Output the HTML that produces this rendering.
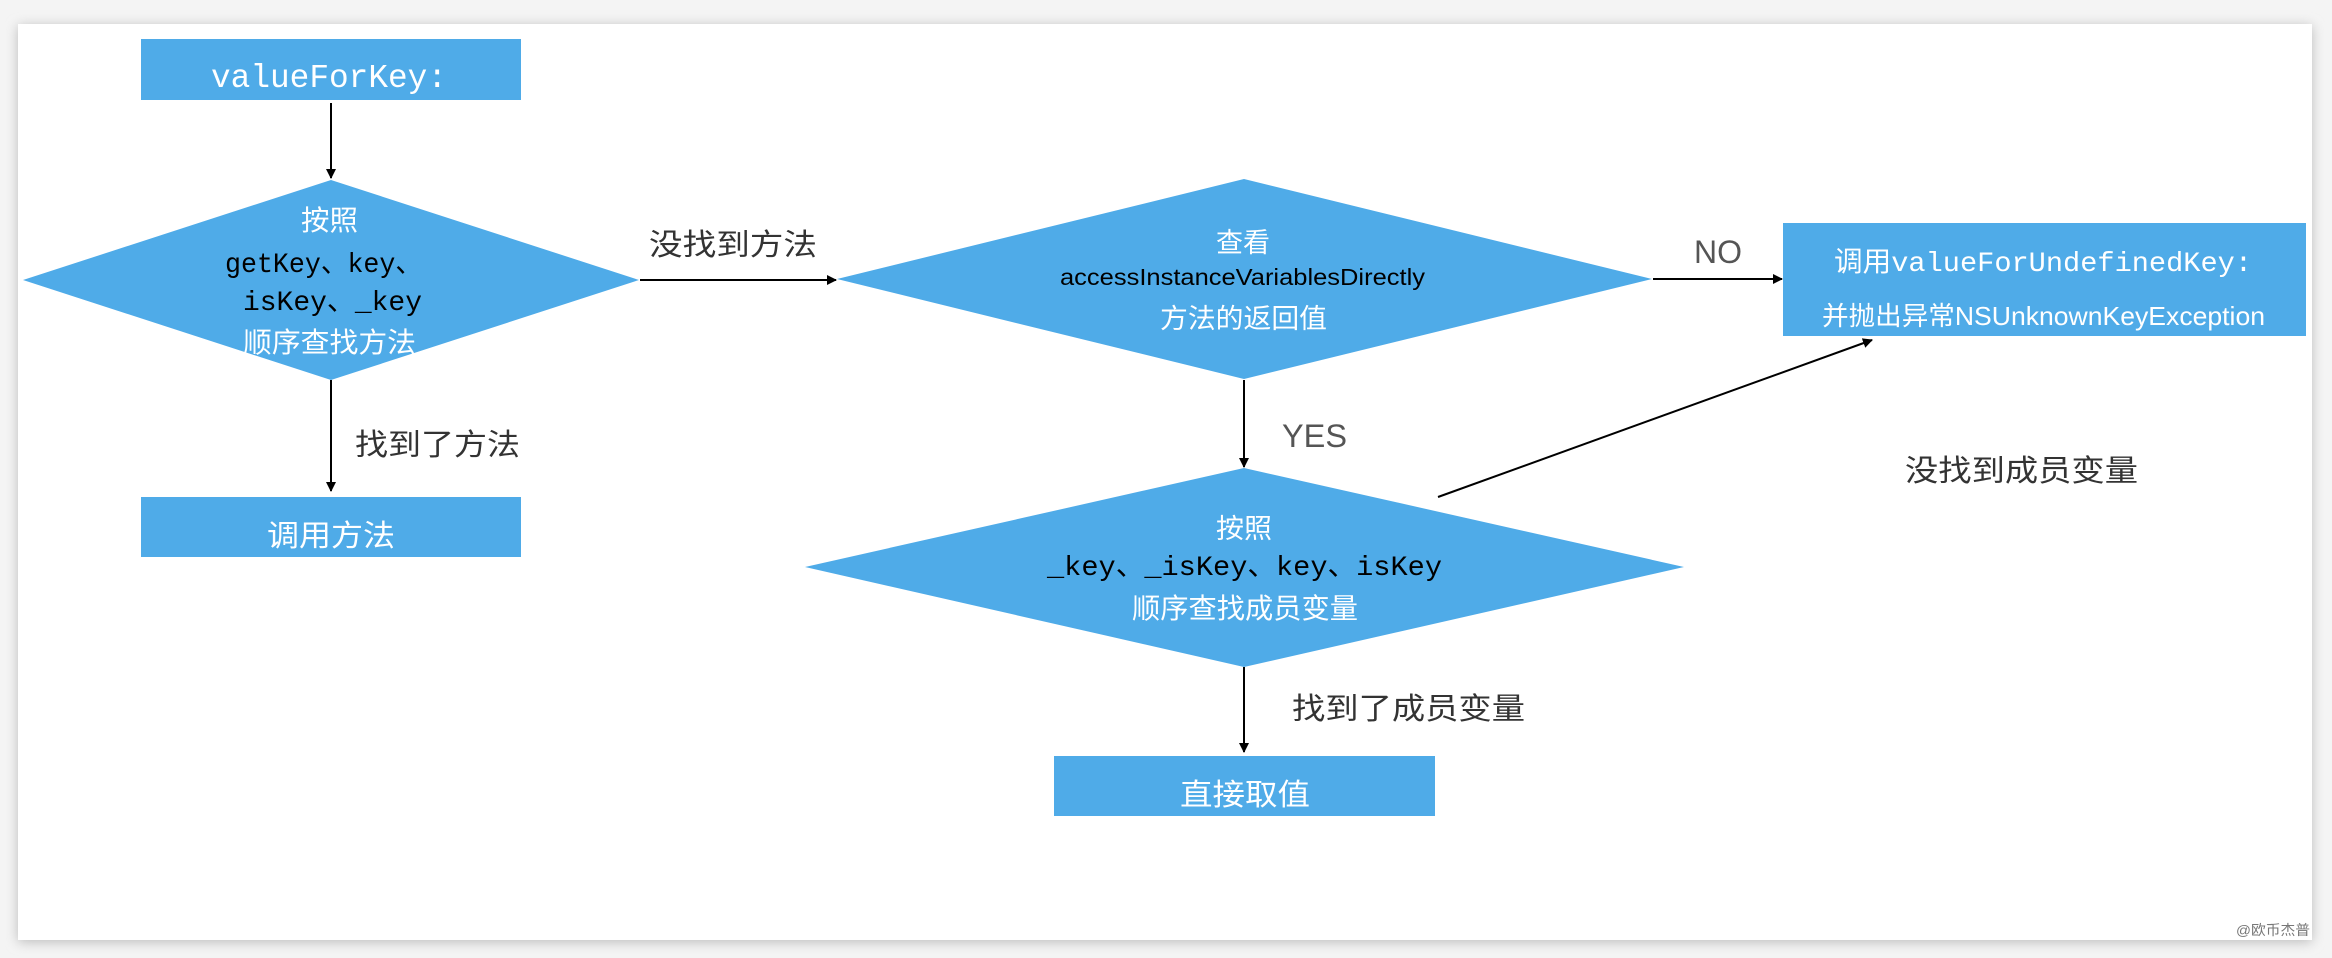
<!DOCTYPE html>
<html><head><meta charset="utf-8"><style>
html,body{margin:0;padding:0;background:#f3f3f3;}
svg{display:block;}
</style></head><body>
<svg width="2332" height="958" viewBox="0 0 2332 958" xmlns="http://www.w3.org/2000/svg">
<defs>
<marker id="a" markerWidth="10" markerHeight="10" refX="9" refY="5" orient="auto" markerUnits="userSpaceOnUse"><path d="M0,0 L10,5 L0,10 z" fill="#000"/></marker>
<filter id="sh" x="-5%" y="-5%" width="110%" height="110%"><feGaussianBlur stdDeviation="6"/></filter>
</defs>
<rect x="0" y="0" width="2332" height="958" fill="#f4f4f4"/>
<rect x="18" y="26" width="2294" height="916" fill="#bbb" filter="url(#sh)"/>
<rect x="18" y="24" width="2294" height="916" fill="#fff"/>
<g fill="#4fabe8">
<rect x="141" y="39" width="380" height="61"/>
<polygon points="23,280 331,180 639,280 331,380"/>
<rect x="141" y="497" width="380" height="60"/>
<polygon points="837,279 1244,179 1652,279 1244,379"/>
<rect x="1783" y="223" width="523" height="113"/>
<polygon points="805,567 1244,468 1684,567 1244,667"/>
<rect x="1054" y="756" width="381" height="60"/>
</g>
<g stroke="#000" stroke-width="2" fill="none">
<line x1="331" y1="103" x2="331" y2="178" marker-end="url(#a)"/>
<line x1="331" y1="380" x2="331" y2="491" marker-end="url(#a)"/>
<line x1="640" y1="280" x2="836" y2="280" marker-end="url(#a)"/>
<line x1="1653" y1="279" x2="1782" y2="279" marker-end="url(#a)"/>
<line x1="1244" y1="380" x2="1244" y2="467" marker-end="url(#a)"/>
<line x1="1438" y1="497" x2="1872" y2="340" marker-end="url(#a)"/>
<line x1="1244" y1="667" x2="1244" y2="752" marker-end="url(#a)"/>
</g>
<g font-family="Liberation Mono, 'Noto Sans CJK SC', monospace" text-anchor="start">
<text x="211" y="87" font-size="33" fill="#fff" textLength="236" lengthAdjust="spacingAndGlyphs">valueForKey:</text>
<text x="225" y="272" font-size="28" fill="#000" textLength="197" lengthAdjust="spacingAndGlyphs">getKey、key、</text>
<text x="243" y="310" font-size="28" fill="#000" textLength="179" lengthAdjust="spacingAndGlyphs">isKey、_key</text>
<text x="1047" y="575" font-size="28" fill="#000" textLength="395" lengthAdjust="spacingAndGlyphs">_key、_isKey、key、isKey</text>
<text x="1834" y="271" font-size="28" fill="#fff" textLength="418" lengthAdjust="spacingAndGlyphs">调用valueForUndefinedKey:</text>
</g>
<g font-family="Liberation Sans, 'Noto Sans CJK SC', sans-serif">
<text x="301" y="230" font-size="28" fill="#fff" textLength="57" lengthAdjust="spacingAndGlyphs">按照</text>
<text x="243" y="352" font-size="28" fill="#fff" textLength="173" lengthAdjust="spacingAndGlyphs">顺序查找方法</text>
<text x="267" y="546" font-size="30" fill="#fff" textLength="128" lengthAdjust="spacingAndGlyphs">调用方法</text>
<text x="355" y="455" font-size="30" fill="#333" textLength="165" lengthAdjust="spacingAndGlyphs">找到了方法</text>
<text x="649" y="255" font-size="30" fill="#333" textLength="168" lengthAdjust="spacingAndGlyphs">没找到方法</text>
<text x="1216" y="252" font-size="27" fill="#fff" textLength="54" lengthAdjust="spacingAndGlyphs">查看</text>
<text x="1060" y="285" font-size="23" fill="#000" textLength="365" lengthAdjust="spacingAndGlyphs">accessInstanceVariablesDirectly</text>
<text x="1160" y="328" font-size="27" fill="#fff" textLength="167" lengthAdjust="spacingAndGlyphs">方法的返回值</text>
<text x="1694" y="263" font-size="32" fill="#555" textLength="48" lengthAdjust="spacingAndGlyphs">NO</text>
<text x="1822" y="325" font-size="26" fill="#fff" textLength="443" lengthAdjust="spacingAndGlyphs">并抛出异常NSUnknownKeyException</text>
<text x="1282" y="447" font-size="32" fill="#555" textLength="65" lengthAdjust="spacingAndGlyphs">YES</text>
<text x="1905" y="481" font-size="30" fill="#333" textLength="233" lengthAdjust="spacingAndGlyphs">没找到成员变量</text>
<text x="1216" y="538" font-size="27" fill="#fff" textLength="56" lengthAdjust="spacingAndGlyphs">按照</text>
<text x="1132" y="618" font-size="28" fill="#fff" textLength="226" lengthAdjust="spacingAndGlyphs">顺序查找成员变量</text>
<text x="1292" y="719" font-size="30" fill="#333" textLength="233" lengthAdjust="spacingAndGlyphs">找到了成员变量</text>
<text x="1180" y="805" font-size="30" fill="#fff" textLength="130" lengthAdjust="spacingAndGlyphs">直接取值</text>
<text x="2236" y="935" font-size="14" fill="#777" textLength="74" lengthAdjust="spacingAndGlyphs">@欧币杰普</text>
</g>
</svg>
</body></html>
